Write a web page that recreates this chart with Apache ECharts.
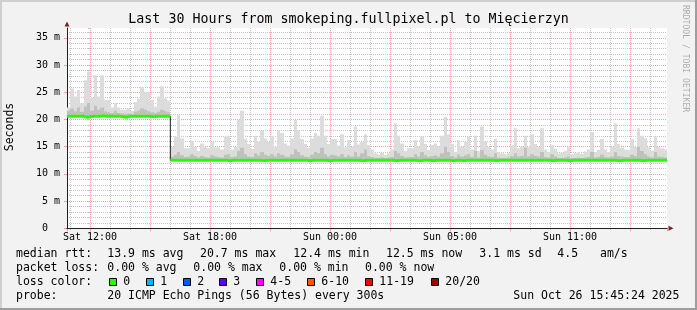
<!DOCTYPE html>
<html><head><meta charset="utf-8">
<script src="https://cdn.jsdelivr.net/npm/echarts@6/dist/echarts.min.js"></script>
<style>html,body{margin:0;padding:0;background:#f2f2f2}#c{width:697px;height:310px}</style>
</head><body><div id="c"></div>
<script>
// ---------- data ----------
const titleText = 'Last 30 Hours from smokeping.fullpixel.pl to Mięcierzyn';
const startHour = -1.15;      // hours relative to Sat 12:00
const stepHours = 1 / 6;      // 10-minute columns
const axisEndHour = 28.85;
const yMax = 36.8;            // ms

const smokeHi = [
22.2,25.7,24.2,25.4,23.0,27.2,28.8,24.0,28.1,24.2,
28.1,23.6,23.6,22.2,23.0,22.2,21.8,21.8,22.0,21.6,
23.2,23.8,26.0,25.1,25.1,23.6,22.4,24.2,26.1,23.9,
23.5,15.0,16.8,20.8,16.5,14.7,14.7,16.1,15.0,14.2,
15.6,15.0,14.7,15.9,14.9,14.9,14.5,16.8,17.0,14.5,
15.0,19.9,21.6,16.4,15.5,14.6,17.0,16.0,18.0,16.5,
15.9,17.0,15.0,18.0,17.5,15.6,15.2,16.5,19.9,18.0,
16.4,15.5,14.8,16.5,17.5,17.0,20.7,17.0,15.5,16.4,
16.4,15.2,17.3,14.9,16.2,15.0,18.7,15.4,15.9,17.3,
15.3,14.5,13.8,13.6,13.9,13.5,13.8,14.5,19.3,17.0,
15.6,14.2,14.7,14.7,16.2,15.0,16.8,15.5,14.4,15.3,
15.6,15.0,17.0,20.5,17.3,15.5,14.0,16.2,15.0,15.9,
16.8,14.5,17.0,14.2,18.7,16.0,14.9,14.5,16.4,14.0,
13.8,13.6,13.8,15.3,18.4,14.7,15.0,17.0,14.9,17.3,
15.5,14.9,18.4,14.5,14.0,15.3,14.6,13.8,13.9,14.2,
14.9,13.6,13.8,14.0,13.7,14.1,14.5,17.7,14.0,14.4,
16.4,14.5,14.0,15.0,19.3,15.5,14.9,14.5,14.4,16.4,
15.0,18.4,17.0,16.5,14.9,14.3,16.8,15.0,14.7,14.5];

const smokeMid = [
21.6,22.0,21.5,22.2,21.4,22.4,23.0,21.6,22.5,21.8,
22.2,21.5,21.3,21.2,21.6,21.2,21.1,21.0,21.1,21.0,
21.4,21.6,22.0,21.8,21.5,21.3,21.2,21.4,21.8,21.5,
21.3,13.2,13.5,14.0,13.4,13.1,13.2,13.6,13.3,13.0,
13.3,13.1,13.0,13.4,13.2,13.1,13.0,13.5,13.6,13.1,
13.2,14.2,14.8,13.6,13.2,13.1,13.8,13.4,14.0,13.5,
13.3,13.6,13.2,13.8,13.5,13.2,13.1,13.6,14.5,14.0,
13.4,13.2,13.1,13.5,14.0,13.8,14.8,13.6,13.2,13.5,
13.4,13.2,13.6,13.1,13.4,13.2,14.0,13.2,13.8,14.5,
13.3,13.1,12.9,12.9,13.0,12.9,13.0,13.1,14.2,13.8,
13.3,13.0,13.1,13.1,13.6,13.2,14.0,13.4,13.1,13.3,
13.4,13.2,13.8,15.0,14.0,13.3,13.0,13.5,13.2,13.4,
13.6,13.1,14.2,13.0,14.4,13.5,13.2,13.1,13.8,13.0,
12.9,12.9,13.0,13.3,13.8,13.2,13.3,14.8,13.2,13.6,
13.3,13.2,14.0,13.1,13.0,13.6,13.2,12.9,12.9,13.0,
13.2,12.9,12.9,13.0,12.9,13.0,13.1,14.0,13.0,13.1,
13.5,13.1,13.0,13.2,14.0,13.3,13.2,13.1,13.1,13.5,
13.3,15.0,14.2,13.6,13.2,13.0,14.0,13.2,13.1,13.0];

const median = [
20.6,20.6,20.6,20.6,20.6,20.4,20.5,20.6,20.6,20.6,
20.7,20.6,20.6,20.6,20.6,20.6,20.5,20.4,20.6,20.6,
20.6,20.6,20.6,20.6,20.6,20.5,20.6,20.6,20.6,20.6,
20.6,12.5,12.5,12.5,12.5,12.5,12.5,12.5,12.5,12.5,
12.5,12.5,12.5,12.5,12.5,12.5,12.5,12.5,12.4,12.5,
12.5,12.5,12.5,12.5,12.5,12.5,12.5,12.5,12.4,12.5,
12.5,12.5,12.5,12.5,12.5,12.5,12.5,12.5,12.5,12.5,
12.5,12.5,12.4,12.5,12.5,12.5,12.5,12.5,12.4,12.5,
12.5,12.5,12.5,12.5,12.5,12.5,12.5,12.5,12.4,12.5,
12.5,12.5,12.5,12.5,12.5,12.5,12.5,12.5,12.4,12.5,
12.5,12.5,12.5,12.5,12.5,12.4,12.5,12.5,12.5,12.4,
12.5,12.5,12.5,12.5,12.5,12.4,12.5,12.5,12.4,12.5,
12.5,12.5,12.5,12.5,12.5,12.5,12.5,12.5,12.4,12.5,
12.5,12.5,12.5,12.5,12.5,12.5,12.5,12.5,12.5,12.5,
12.5,12.5,12.5,12.5,12.5,12.4,12.5,12.5,12.5,12.5,
12.4,12.5,12.5,12.5,12.5,12.5,12.5,12.5,12.5,12.5,
12.5,12.5,12.5,12.5,12.5,12.4,12.5,12.5,12.5,12.5,
12.5,12.5,12.4,12.5,12.5,12.5,12.5,12.5,12.5,12.5];

const xTickHours = [0, 6, 12, 18, 24];
const xTickLabels = ['Sat 12:00', 'Sat 18:00', 'Sun 00:00', 'Sun 05:00', 'Sun 11:00'];

const rttHead = 'median rtt:';
const rttStats = ['13.9 ms avg', '20.7 ms max', '12.4 ms min', '12.5 ms now', '3.1 ms sd', '4.5', 'am/s'];
const lossHead = 'packet loss:';
const lossStats = ['0.00 % avg', '0.00 % max', '0.00 % min', '0.00 % now'];
const colorHead = 'loss color:';
const lossLabels = ['0', '1', '2', '3', '4-5', '6-10', '11-19', '20/20'];
const lossColors = ['#26ff00', '#00b8ff', '#0059ff', '#5e00ff', '#ff00ff', '#ff5500', '#ff0000', '#a10000'];
const probeHead = 'probe:';
const probeText = '20 ICMP Echo Pings (56 Bytes) every 300s';
const stampText = 'Sun Oct 26 15:45:24 2025';
const yUnitText = 'Seconds';
const watermark = 'RRDTOOL / TOBI OETIKER';

// ---------- layout / styles ----------
const MONO = '"DejaVu Sans Mono"';
const GRID_C = '#c4c4c4';
const MGRID_C = '#f0a0a0';
const AXIS_C = '#1f1f1f';
const ARROW_C = '#801f1f';

const N = median.length;
const tAt = i => startHour + i * stepHours;
function pairs(vals) {
  const out = vals.map((v, i) => [tAt(i), v]);
  out.push([tAt(vals.length), vals[vals.length - 1]]);
  return out;
}
const greenData = [];
for (let i = 0; i < N; i++) {
  greenData.push([tAt(i), median[i]]);
  if (i + 1 < N && Math.abs(median[i + 1] - median[i]) > 2) {
    greenData.push([tAt(i + 1), median[i]]);
    greenData.push([tAt(i + 1), '-']);
  }
}
greenData.push([tAt(N), median[N - 1]]);

function bandSeries(tops, color) {
  return {
    type: 'custom', xAxisIndex: 2, yAxisIndex: 1, silent: true, clip: true,
    data: tops.map((v, i) => [tAt(i), tAt(i + 1), median[i], v]),
    encode: { x: [0, 1], y: [2, 3] },
    renderItem: function (params, api) {
      const pTop = api.coord([api.value(0), api.value(3)]);
      const pBot = api.coord([api.value(1), api.value(2)]);
      const x0 = Math.round(pTop[0]), x1 = Math.round(pBot[0]);
      return { type: 'rect', shape: { x: x0, y: pTop[1], width: x1 - x0, height: pBot[1] - pTop[1] },
        style: { fill: color } };
    }
  };
}

function txt(x, y, s, size, extra) {
  const o = { type: 'text', x: x, y: y, silent: true, z: 50,
    style: { text: s, fill: '#000', font: size + 'px ' + MONO, textAlign: 'left', textVerticalAlign: 'middle' } };
  if (extra) { Object.assign(o.style, extra.style || {}); if (extra.rotation != null) o.rotation = extra.rotation; }
  return o;
}
const graphics = [];
graphics.push(txt(348.5, 19.5, titleText, 13.3, { style: { textAlign: 'center' } }));
graphics.push(txt(10.5, 127, yUnitText, 11.5, { style: { textAlign: 'center' }, rotation: Math.PI / 2 }));
graphics.push(txt(685.5, 5, watermark, 8.1, { style: { fill: 'rgba(0,0,0,0.3)' }, rotation: -Math.PI / 2 }));
const L1 = 254.5, L2 = 268.5, L3 = 282.5, L4 = 296.5, FS = 11.5;
graphics.push(txt(16, L1, rttHead, FS));
[107.3, 200, 293.3, 386, 479.3, 557.3, 600].forEach((x, i) => graphics.push(txt(x, L1, rttStats[i], FS)));
graphics.push(txt(16, L2, lossHead, FS));
[107.3, 193.3, 279.3, 365].forEach((x, i) => graphics.push(txt(x, L2, lossStats[i], FS)));
graphics.push(txt(16, L3, colorHead, FS));
[109, 146, 183, 219, 256, 307, 365, 431].forEach((x, i) => {
  graphics.push({ type: 'rect', silent: true, z: 50, shape: { x: x + 0.5, y: 278.5, width: 7, height: 7 },
    style: { fill: lossColors[i], stroke: '#000', lineWidth: 1 } });
  graphics.push(txt(x + 14.3, L3, lossLabels[i], FS));
});
graphics.push(txt(16, L4, probeHead, FS));
graphics.push(txt(107.3, L4, probeText, FS));
graphics.push(txt(513.3, L4, stampText, FS));
// 3D frame
graphics.push({ type: 'rect', silent: true, z: 60, shape: { x: 0, y: 0, width: 697, height: 2 }, style: { fill: '#cfcfcf' } });
graphics.push({ type: 'rect', silent: true, z: 60, shape: { x: 0, y: 0, width: 2, height: 310 }, style: { fill: '#cfcfcf' } });
graphics.push({ type: 'rect', silent: true, z: 61, shape: { x: 0, y: 308, width: 697, height: 2 }, style: { fill: '#9e9e9e' } });
graphics.push({ type: 'rect', silent: true, z: 61, shape: { x: 695, y: 0, width: 2, height: 310 }, style: { fill: '#9e9e9e' } });

const xBase = { type: 'value', min: startHour, max: axisEndHour, position: 'bottom',
  axisLine: { show: false }, axisLabel: { show: false }, axisTick: { show: false }, splitLine: { show: false } };
const yBase = { type: 'value', min: 0, max: yMax, position: 'left',
  axisLine: { show: false }, axisLabel: { show: false }, axisTick: { show: false }, splitLine: { show: false } };

const option = {
  animation: false,
  backgroundColor: '#f2f2f2',
  grid: { left: 67, right: 30, top: 28, bottom: 81.7, show: true, backgroundColor: '#ffffff', borderWidth: 0 },
  graphic: graphics,
  xAxis: [
    Object.assign({}, xBase, { z: 0, minInterval: 1, maxInterval: 1, splitNumber: 30,
      axisTick: { show: true, length: 2, lineStyle: { color: GRID_C } },
      splitLine: { show: true, showMinLine: false, showMaxLine: false, lineStyle: { color: GRID_C, width: 1, type: [1, 1] } } }),
    Object.assign({}, xBase, { z: 1, minInterval: 3, maxInterval: 3, splitNumber: 10,
      axisTick: { show: true, length: 3, lineStyle: { color: MGRID_C } },
      splitLine: { show: true, showMinLine: false, showMaxLine: false, lineStyle: { color: MGRID_C, width: 1, type: [1, 1] } } }),
    Object.assign({}, xBase, { z: 3, minInterval: 6, maxInterval: 6, splitNumber: 5,
      axisLine: { show: true, onZero: false, lineStyle: { color: AXIS_C, width: 1 } },
      axisLabel: { show: true, showMinLabel: false, showMaxLabel: false, margin: 4, color: '#000',
        fontFamily: 'DejaVu Sans Mono', fontSize: 10,
        formatter: v => { const i = xTickHours.indexOf(Math.round(v * 1000) / 1000); return i >= 0 ? xTickLabels[i] : ''; } } }),
    Object.assign({}, xBase, { z: 4,
      axisLine: { show: true, onZero: false, symbol: ['none', 'triangle'], symbolSize: [5, 5], symbolOffset: [0, 4],
        lineStyle: { color: ARROW_C, width: 0 } } })
  ],
  yAxis: [
    Object.assign({}, yBase, { z: 0, interval: 1,
      axisTick: { show: true, length: 2, lineStyle: { color: GRID_C } },
      splitLine: { show: true, showMinLine: false, showMaxLine: false, lineStyle: { color: GRID_C, width: 1, type: [1, 1] } } }),
    Object.assign({}, yBase, { z: 1, interval: 5,
      axisTick: { show: true, length: 3, lineStyle: { color: MGRID_C } },
      splitLine: { show: true, showMinLine: false, showMaxLine: false, lineStyle: { color: MGRID_C, width: 1, type: [1, 1] } },
      axisLine: { show: true, onZero: false, lineStyle: { color: AXIS_C, width: 1 } },
      axisLabel: { show: true, showMaxLabel: false, margin: 7, color: '#000', fontFamily: 'DejaVu Sans Mono', fontSize: 10,
        formatter: v => (v > 35.5 ? '' : (v === 0 ? '0  ' : v + ' m')) } }),
    Object.assign({}, yBase, { z: 4,
      axisLine: { show: true, onZero: false, symbol: ['none', 'triangle'], symbolSize: [5, 5], symbolOffset: [0, 4],
        lineStyle: { color: ARROW_C, width: 0 } } })
  ],
  series: [
    bandSeries(smokeHi, '#dcdcdc'),
    bandSeries(smokeMid, '#c0c0c0'),
    { type: 'line', step: 'end', symbol: 'none', silent: true, xAxisIndex: 2, yAxisIndex: 1,
      data: pairs(median), lineStyle: { color: '#202020', width: 1 } },
    { type: 'line', step: 'end', symbol: 'none', silent: true, xAxisIndex: 2, yAxisIndex: 1, connectNulls: false,
      data: greenData, lineStyle: { color: '#26ff00', width: 3 } }
  ]
};
const chart = echarts.init(document.getElementById('c'), null, { renderer: 'canvas' });
chart.setOption(option);
</script></body></html>
